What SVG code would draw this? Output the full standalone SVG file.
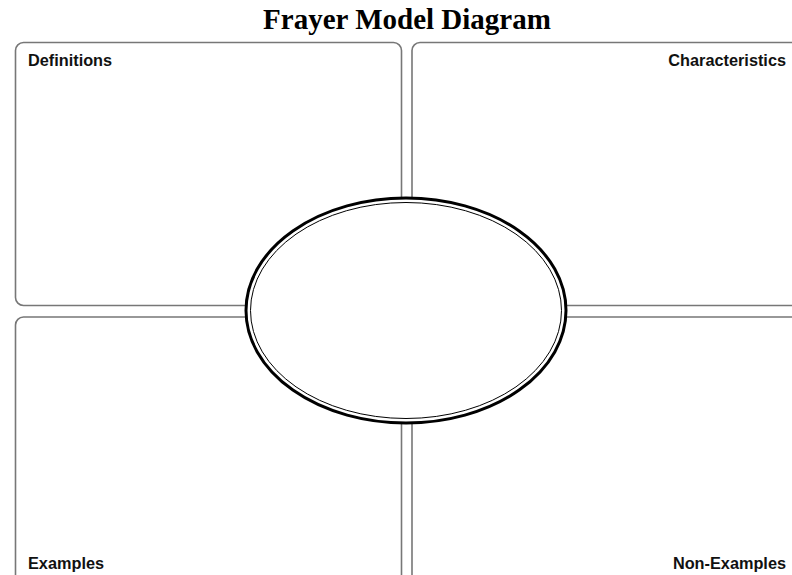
<svg xmlns="http://www.w3.org/2000/svg" width="792" height="575" viewBox="0 0 792 575">
<style>
.box{fill:#fff;stroke:#777;stroke-width:1.6}
.lbl{font-family:"Liberation Sans",Arial,sans-serif;font-weight:bold;font-size:16.3px;fill:#111}
.title{font-family:"Liberation Serif","Times New Roman",serif;font-weight:bold;font-size:29px;fill:#000}
</style>
<rect width="792" height="575" fill="#fff"/>
<text class="title" x="407" y="29" text-anchor="middle">Frayer Model Diagram</text>
<g id="definitions">
<rect class="box" x="15.5" y="42.5" width="386" height="263" rx="8"/>
<text class="lbl" x="28" y="65.5">Definitions</text>
</g>
<g id="characteristics">
<rect class="box" x="412" y="42.5" width="400" height="263" rx="8"/>
<text class="lbl" x="786" y="65.5" text-anchor="end">Characteristics</text>
</g>
<g id="examples">
<rect class="box" x="15.5" y="317" width="386" height="280" rx="8"/>
<text class="lbl" x="28" y="569">Examples</text>
</g>
<g id="non-examples">
<rect class="box" x="412" y="317" width="400" height="280" rx="8"/>
<text class="lbl" x="786" y="569" text-anchor="end">Non-Examples</text>
</g>
<g id="center">
<ellipse cx="406" cy="310.5" rx="160" ry="112.5" fill="#fff" stroke="#000" stroke-width="3"/>
<ellipse cx="406" cy="310.5" rx="155.5" ry="108" fill="none" stroke="#000" stroke-width="1"/>
</g>
</svg>
